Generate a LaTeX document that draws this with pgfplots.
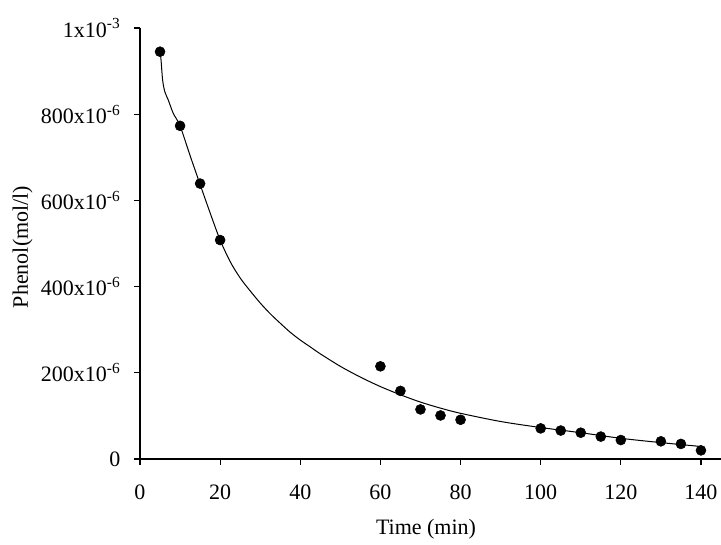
\documentclass[border=0pt]{standalone}
\usepackage{fontspec}
\setmainfont{Liberation Serif}
\usepackage{pgfplots}
\pgfplotsset{compat=1.18}
\begin{document}
\fontsize{16.5}{20}\selectfont
\begin{tikzpicture}
\useasboundingbox (-105pt,-64.5pt) rectangle (435.75pt,344.25pt);
\begin{axis}[
  at={(0pt,0pt)}, anchor=origin,
  scale only axis, width=435.75pt, height=323.25pt,
  xmin=0, xmax=145, ymin=0, ymax=1000,
  axis x line=bottom, axis y line=left,
  axis line style={-, line width=0.9pt},
  tick align=outside, major tick length=4.5pt,
  tick style={line width=0.9pt, black},
  xtick={0,20,40,60,80,100,120,140},
  xticklabels={0,20,40,60,80,100,120,140},
  ytick={0,200,400,600,800,1000},
  yticklabels={0,200x10\textsuperscript{-6},400x10\textsuperscript{-6},600x10\textsuperscript{-6},800x10\textsuperscript{-6},1x10\textsuperscript{-3}},
  ticklabel style={font=\fontsize{16.5}{20}\selectfont},
  xticklabel style={yshift=-9pt},
  yticklabel style={xshift=-4.5pt},
  xlabel={Time (min)}, ylabel={Phenol(mol/l)},
  label style={font=\fontsize{16.5}{20}\selectfont},
  xlabel style={at={(axis description cs:0.4923,-0.1763)}, anchor=base},
  ylabel style={at={(axis description cs:-0.1928,0.492)}, anchor=base, rotate=0},
  clip=false,
]
\addplot[black, line width=0.75pt, smooth, tension=0.5] coordinates {
(5,945) (5.25,926) (5.65,879) (6.2,852) (7.05,833) (8.3,802) (10,773)
(12.5,704) (15,637) (17.5,571) (20,508) (22.5,458) (25,420) (27.5,390)
(30,362) (32.5,337) (35,315) (37.5,294) (40,276) (42.5,260) (45,244)
(50,215) (55,190) (60,168) (65,149) (70,132) (75,118) (80,106) (90,87)
(100,73) (110,61) (120,48) (130,38) (140,29)
};
\addplot[only marks, mark=*, mark size=3.75pt, black] coordinates {
(5,945) (10,773) (15,639) (20,508) (60,215) (65,158) (70,115) (75,101) (80,91)
(100,71) (105,66) (110,61) (115,52) (120,44) (130,41) (135,35) (140,20)
};
\end{axis}
\end{tikzpicture}
\end{document}
